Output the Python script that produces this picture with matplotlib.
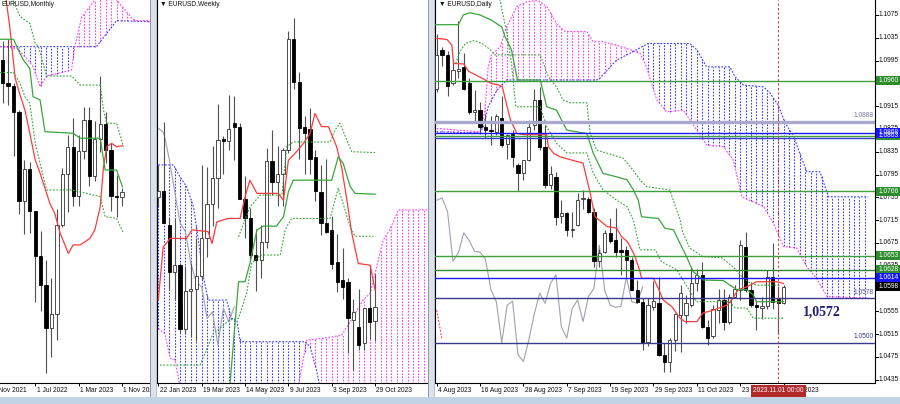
import numpy as np
import matplotlib
matplotlib.use("Agg")
import matplotlib.pyplot as plt
import matplotlib.transforms as mtransforms
from matplotlib.patches import Rectangle

plt.rcParams['font.family'] = ['Liberation Sans', 'DejaVu Sans']

# ---------------- Monthly EURUSD (Jan 2022 .. Nov 2023) ----------------
m_open = [1.1370, 1.1235, 1.1218, 1.1067, 1.0545, 1.0733, 1.0484, 1.0220, 1.0054, 0.9802, 0.9882, 1.0405,
          1.0705, 1.0863, 1.0576, 1.0839, 1.1017, 1.0690, 1.0910, 1.0997, 1.0843, 1.0573, 1.0570]
m_high = [1.1483, 1.1495, 1.1233, 1.1076, 1.0787, 1.0773, 1.0486, 1.0368, 1.0198, 1.0094, 1.0497, 1.0736,
          1.0929, 1.1033, 1.0930, 1.1095, 1.1092, 1.1012, 1.1276, 1.1065, 1.0882, 1.0695, 1.0620]
m_low = [1.1121, 1.1106, 1.0806, 1.0471, 1.0349, 1.0359, 0.9952, 0.9901, 0.9536, 0.9632, 0.9730, 1.0393,
         1.0482, 1.0516, 1.0516, 1.0788, 1.0635, 1.0662, 1.0834, 1.0766, 1.0488, 1.0448, 1.0516]
m_close = [1.1235, 1.1218, 1.1067, 1.0545, 1.0733, 1.0484, 1.0220, 1.0054, 0.9802, 0.9882, 1.0405, 1.0705,
           1.0863, 1.0576, 1.0839, 1.1017, 1.0690, 1.0910, 1.0997, 1.0843, 1.0573, 1.0566, 1.0598]
m_tick_idx = [-2, 6, 14, 22]
m_tick_lbl = ['1 Nov 2021', '1 Jul 2022', '1 Mar 2023', '1 Nov 2023']

m_tenkan_x = [0.3, 1.3, 2.3, 3.2, 4.1, 5.0, 6.0, 6.9, 7.8, 8.7, 9.6, 10.6, 12.1, 13.0, 14.3, 16.1, 17.0, 18.0, 18.6, 19.2, 20.1, 21.0, 22.1]
m_tenkan_y = [1.1800, 1.1565, 1.1263, 1.1165, 1.1077, 1.0941, 1.0785, 1.0707, 1.0619, 1.0531, 1.0473, 1.0356, 1.0238, 1.0287, 1.0287, 1.0326, 1.0375, 1.0511, 1.0745, 1.0862, 1.0882, 1.0862, 1.0868]
m_kijun_x = [-0.5, 2.0, 2.9, 3.8, 5.0, 5.6, 6.9, 7.8, 13.0, 14.3, 18.0, 18.9, 21.0, 22.1]
m_kijun_y = [1.1491, 1.1491, 1.1428, 1.1370, 1.1321, 1.1155, 1.1136, 1.0950, 1.0941, 1.0912, 1.0912, 1.0726, 1.0726, 1.0628]
m_dotu_x = [1.0, 3.2, 5.0, 6.0, 6.6, 8.1, 12.7, 14.3, 18.0, 18.6, 19.2, 21.0, 22.3]
m_dotu_y = [1.1790, 1.1623, 1.1585, 1.1468, 1.1448, 1.1276, 1.1276, 1.1223, 1.1223, 1.1077, 1.0999, 1.0999, 1.0862]
m_dotl_x = [-0.5, 2.0, 3.2, 4.1, 5.0, 6.0, 8.1, 12.7, 18.0, 18.9, 21.0, 22.3]
m_dotl_y = [1.1296, 1.1296, 1.1233, 1.1155, 1.1116, 1.0882, 1.0609, 1.0609, 1.0570, 1.0453, 1.0443, 1.0356]
m_spana_x = [-0.5, 17.3, 21.0, 27.2]
m_spana_y = [1.1448, 1.1448, 1.1600, 1.1594]
m_spanb_x = [-0.5, 2.6, 4.4, 5.6, 6.9, 8.1, 12.7, 13.3, 14.6, 16.1, 17.0, 18.0, 20.4, 21.0, 22.6, 23.8, 24.7, 27.2]
m_spanb_y = [1.1448, 1.1438, 1.1380, 1.1331, 1.1214, 1.1276, 1.1311, 1.1448, 1.1623, 1.1682, 1.1721, 1.1760, 1.1760, 1.1721, 1.1662, 1.1614, 1.1600, 1.1600]

# ---------------- Weekly EURUSD (22 Jan 2023 .. 29 Oct 2023) ----------------
w_open = [1.0855, 1.0870, 1.0790, 1.0680, 1.0695, 1.0545, 1.0635, 1.0640, 1.0670, 1.0760, 1.0840, 1.0900,
          1.0990, 1.0988, 1.1030, 1.1020, 1.0850, 1.0805, 1.0720, 1.0708, 1.0750, 1.0940, 1.0890, 1.0910,
          1.0965, 1.1228, 1.1125, 1.1020, 1.1015, 1.0950, 1.0868, 1.0795, 1.0778, 1.0703, 1.0660, 1.0656,
          1.0566, 1.0550, 1.0512, 1.0594, 1.0564]
w_high = [1.0930, 1.1033, 1.0805, 1.0805, 1.0700, 1.0693, 1.0700, 1.0760, 1.0930, 1.0925, 1.0975, 1.1075,
          1.1000, 1.1095, 1.1092, 1.1030, 1.0905, 1.0830, 1.0780, 1.0790, 1.0970, 1.1012, 1.0975, 1.0970,
          1.1245, 1.1276, 1.1150, 1.1045, 1.1065, 1.0965, 1.0930, 1.0945, 1.0810, 1.0768, 1.0736, 1.0665,
          1.0616, 1.0640, 1.0595, 1.0695, 1.0675]
w_low = [1.0835, 1.0795, 1.0640, 1.0615, 1.0535, 1.0533, 1.0525, 1.0516, 1.0660, 1.0715, 1.0788, 1.0830,
         1.0910, 1.0965, 1.0942, 1.0850, 1.0760, 1.0705, 1.0635, 1.0665, 1.0735, 1.0860, 1.0835, 1.0835,
         1.0960, 1.1110, 1.0945, 1.0910, 1.0910, 1.0845, 1.0766, 1.0770, 1.0685, 1.0632, 1.0615, 1.0488,
         1.0448, 1.0495, 1.0495, 1.0522, 1.0516]
w_close = [1.0870, 1.0795, 1.0680, 1.0695, 1.0545, 1.0635, 1.0640, 1.0670, 1.0760, 1.0840, 1.0900, 1.0990,
           1.0988, 1.1015, 1.1020, 1.0850, 1.0805, 1.0720, 1.0708, 1.0750, 1.0940, 1.0890, 1.0910, 1.0965,
           1.1228, 1.1125, 1.1017, 1.1007, 1.0946, 1.0870, 1.0795, 1.0774, 1.0699, 1.0656, 1.0644, 1.0570,
           1.0585, 1.0507, 1.0594, 1.0562, 1.0597]
w_tick_idx = [0, 8, 16, 24, 32, 40]
w_tick_lbl = ['22 Jan 2023', '19 Mar 2023', '14 May 2023', '9 Jul 2023', '3 Sep 2023', '29 Oct 2023']

w_tenkan_x = [0, 0.9, 2.2, 5.2, 6.2, 9.2, 9.9, 10.8, 12.9, 15.1, 16.0, 16.9, 18.2, 22.1, 23.1, 24.0, 25.5, 26.8, 28.0, 28.9, 30.1, 31.4, 32.9, 33.8, 34.8, 35.7, 36.9, 39.1, 40.0]
w_tenkan_y = [1.0613, 1.0738, 1.0758, 1.0758, 1.0778, 1.0774, 1.0746, 1.0797, 1.0805, 1.0805, 1.0856, 1.0895, 1.0864, 1.0864, 1.0848, 1.0942, 1.0962, 1.0982, 1.1005, 1.1052, 1.1021, 1.1021, 1.0974, 1.0927, 1.0848, 1.0770, 1.0699, 1.0695, 1.0636]
w_kijun_x = [13.0, 14.8, 16.0, 16.9, 18.2, 19.4, 21.8, 23.1, 24.0, 24.9, 32.0, 33.2, 34.1, 35.4, 36.3, 40.0]
w_kijun_y = [1.0380, 1.0656, 1.0656, 1.0699, 1.0778, 1.0787, 1.0787, 1.0809, 1.0868, 1.0895, 1.0895, 1.0950, 1.0935, 1.0880, 1.0864, 1.0862]
w_dotu_x = [14.8, 16.9, 18.8, 22.8, 23.7, 24.9, 31.7, 32.6, 33.5, 34.8, 35.7, 40.0]
w_dotu_y = [1.0762, 1.0832, 1.0860, 1.0860, 1.0974, 1.0985, 1.0985, 1.1013, 1.1029, 1.0989, 1.0962, 1.0960]
w_dotl_x = [0.3, 7.7, 8.6, 10.1, 13.2, 14.8, 16.3, 17.2, 18.8, 22.5, 23.4, 24.6, 31.7, 32.6, 33.2, 34.1, 35.4, 36.3, 39.7]
w_dotl_y = [1.0460, 1.0460, 1.0487, 1.0534, 1.0566, 1.0570, 1.0629, 1.0699, 1.0719, 1.0719, 1.0778, 1.0805, 1.0805, 1.0848, 1.0876, 1.0840, 1.0785, 1.0763, 1.0763]
w_spana_x = [0, 2.8, 4.0, 5.2, 6.5, 7.4, 8.3, 9.2, 12.6, 13.5, 14.5, 15.1, 27.1, 28.0, 29.2, 29.8, 49.8]
w_spana_y = [1.0931, 1.0931, 1.0903, 1.0880, 1.0832, 1.0754, 1.0668, 1.0613, 1.0613, 1.0570, 1.0566, 1.0515, 1.0515, 1.0503, 1.0448, 1.0409, 1.0409]
w_spanb_x = [0, 1.2, 2.2, 3.1, 4.0, 25.8, 27.4, 30.4, 33.8, 34.8, 36.0, 37.8, 39.1, 40.9, 41.5, 42.7, 44.3, 49.8]
w_spanb_y = [1.0546, 1.0534, 1.0476, 1.0472, 1.0409, 1.0409, 1.0519, 1.0523, 1.0530, 1.0550, 1.0574, 1.0613, 1.0629, 1.0723, 1.0754, 1.0778, 1.0825, 1.0825]

# ---------------- Daily EURUSD (4 Aug 2023 .. 2 Nov 2023) ----------------
d_open = [1.0945, 1.1014, 1.1005, 1.0955, 1.0976, 1.0984, 1.0955, 1.0905, 1.0908, 1.0879,
          1.0873, 1.0870, 1.0895, 1.0849, 1.0866, 1.0812, 1.0797, 1.0821, 1.0882, 1.0926,
          1.0844, 1.0777, 1.0790, 1.0722, 1.0727, 1.0698, 1.0707, 1.0752, 1.0753, 1.0730,
          1.0644, 1.0660, 1.0693, 1.0680, 1.0663, 1.0663, 1.0646, 1.0593, 1.0572, 1.0502,
          1.0563, 1.0570, 1.0479, 1.0467, 1.0505, 1.0549, 1.0549, 1.0566, 1.0604, 1.0619,
          1.0528, 1.0511, 1.0557, 1.0575, 1.0537, 1.0581, 1.0592, 1.0668, 1.0592, 1.0566,
          1.0561, 1.0564, 1.0615, 1.0576, 1.0569]
d_high = [1.1042, 1.1019, 1.1011, 1.0996, 1.1064, 1.1008, 1.0964, 1.0943, 1.0923, 1.0902,
          1.0897, 1.0902, 1.0932, 1.0867, 1.0873, 1.0815, 1.0821, 1.0891, 1.0946, 1.0949,
          1.0882, 1.0810, 1.0800, 1.0750, 1.0730, 1.0730, 1.0762, 1.0768, 1.0756, 1.0736,
          1.0664, 1.0698, 1.0718, 1.0736, 1.0683, 1.0670, 1.0651, 1.0610, 1.0578, 1.0578,
          1.0608, 1.0616, 1.0499, 1.0508, 1.0552, 1.0601, 1.0584, 1.0632, 1.0630, 1.0642,
          1.0540, 1.0566, 1.0595, 1.0595, 1.0585, 1.0601, 1.0680, 1.0695, 1.0607, 1.0575,
          1.0580, 1.0628, 1.0675, 1.0600, 1.0601]
d_low = [1.0940, 1.0985, 1.0932, 1.0952, 1.0965, 1.0943, 1.0902, 1.0885, 1.0867, 1.0859,
         1.0847, 1.0864, 1.0844, 1.0823, 1.0809, 1.0766, 1.0786, 1.0818, 1.0873, 1.0838,
         1.0771, 1.0770, 1.0706, 1.0710, 1.0687, 1.0686, 1.0705, 1.0735, 1.0727, 1.0632,
         1.0633, 1.0657, 1.0675, 1.0650, 1.0619, 1.0615, 1.0593, 1.0569, 1.0488, 1.0495,
         1.0557, 1.0476, 1.0448, 1.0449, 1.0485, 1.0483, 1.0534, 1.0563, 1.0590, 1.0525,
         1.0496, 1.0508, 1.0535, 1.0522, 1.0533, 1.0578, 1.0575, 1.0589, 1.0563, 1.0522,
         1.0541, 1.0560, 1.0560, 1.0516, 1.0568]
d_close = [1.1005, 1.1005, 1.0950, 1.0978, 1.0981, 1.0946, 1.0905, 1.0909, 1.0879, 1.0873,
           1.0872, 1.0897, 1.0847, 1.0864, 1.0826, 1.0797, 1.0820, 1.0879, 1.0926, 1.0844,
           1.0777, 1.0796, 1.0720, 1.0727, 1.0698, 1.0700, 1.0750, 1.0754, 1.0730, 1.0643,
           1.0658, 1.0693, 1.0679, 1.0660, 1.0659, 1.0646, 1.0593, 1.0572, 1.0500, 1.0566,
           1.0573, 1.0479, 1.0467, 1.0505, 1.0550, 1.0587, 1.0569, 1.0604, 1.0619, 1.0528,
           1.0508, 1.0560, 1.0575, 1.0537, 1.0581, 1.0595, 1.0671, 1.0592, 1.0566, 1.0562,
           1.0564, 1.0615, 1.0572, 1.0569, 1.0598]
d_tick_idx = [0, 8, 16, 24, 32, 40, 48, 56, 64]
d_tick_lbl = ['4 Aug 2023', '16 Aug 2023', '28 Aug 2023', '7 Sep 2023', '19 Sep 2023',
              '29 Sep 2023', '11 Oct 2023', '23 Oct 2023', '2 Nov 2023']
d_price_ticks = [1.1075, 1.1035, 1.0995, 1.0955, 1.0915, 1.0875, 1.0835, 1.0795, 1.0755,
                 1.0715, 1.0675, 1.0635, 1.0555, 1.0515, 1.0475, 1.0435]

d_tenkan_x = [-0.1, 1.9, 2.8, 3.1, 5.0, 5.9, 8.4, 10.0, 11.5, 12.1, 13.0, 13.6, 14.8, 16.1, 20.3, 20.6, 21.6, 22.8, 27.0, 28.3, 29.2, 30.4, 31.4, 33.2, 34.1, 35.2, 36.0, 36.6, 37.5, 37.8, 40.0, 40.9, 41.8, 43.4, 44.9, 45.8, 48.0, 49.1, 51.0, 53.6, 54.4, 55.6, 57.2, 59.0, 62.7, 64.0]
d_tenkan_y = [1.1034, 1.1032, 1.1022, 1.0990, 1.0989, 1.0976, 1.0964, 1.0955, 1.0952, 1.0949, 1.0914, 1.0891, 1.0867, 1.0865, 1.0865, 1.0844, 1.0832, 1.0826, 1.0815, 1.0763, 1.0721, 1.0712, 1.0704, 1.0701, 1.0686, 1.0677, 1.0663, 1.0651, 1.0625, 1.0613, 1.0613, 1.0595, 1.0575, 1.0563, 1.0543, 1.0537, 1.0537, 1.0552, 1.0557, 1.0566, 1.0575, 1.0593, 1.0598, 1.0607, 1.0607, 1.0604]
d_kijun_x = [-0.3, 4.0, 4.9, 6.1, 8.0, 10.1, 12.0, 12.6, 13.8, 14.9, 19.1, 20.3, 22.1, 24.0, 27.7, 28.9, 30.7, 33.2, 35.1, 36.3, 37.2, 37.8, 40.9, 42.1, 43.7, 44.9, 45.8, 47.3, 49.2, 52.9, 54.1, 55.4, 57.2, 58.4, 59.0, 64.0]
d_kijun_y = [1.1058, 1.1058, 1.1075, 1.1079, 1.1075, 1.1066, 1.1054, 1.1037, 1.1014, 1.0961, 1.0961, 1.0914, 1.0908, 1.0873, 1.0867, 1.0832, 1.0797, 1.0791, 1.0786, 1.0768, 1.0750, 1.0721, 1.0718, 1.0701, 1.0698, 1.0674, 1.0657, 1.0625, 1.0610, 1.0609, 1.0601, 1.0593, 1.0593, 1.0584, 1.0572, 1.0572]
d_dotu_x = [3.5, 4.3, 5.3, 6.8, 8.4, 9.9, 10.8, 19.1, 20.6, 22.1, 23.3, 24.6, 27.7, 28.3, 29.5, 34.4, 36.2, 37.5, 38.7, 43.0, 44.9, 45.4, 46.7, 49.1, 52.6, 54.7, 56.5, 57.8, 59.0, 63.3]
d_dotu_y = [1.0990, 1.1011, 1.1025, 1.1030, 1.1025, 1.1014, 1.1005, 1.1005, 1.0967, 1.0949, 1.0926, 1.0921, 1.0921, 1.0868, 1.0838, 1.0824, 1.0803, 1.0786, 1.0774, 1.0768, 1.0716, 1.0693, 1.0666, 1.0651, 1.0649, 1.0633, 1.0614, 1.0605, 1.0601, 1.0601]
d_dotl_x = [11.6, 13.0, 13.8, 14.6, 19.1, 20.3, 22.1, 24.0, 27.7, 28.9, 30.7, 33.2, 35.1, 36.3, 37.5, 40.3, 41.5, 44.3, 47.9, 54.1, 55.0, 57.2, 58.4, 64.1]
d_dotl_y = [1.1105, 1.1040, 1.0990, 1.0914, 1.0914, 1.0879, 1.0850, 1.0833, 1.0833, 1.0797, 1.0768, 1.0750, 1.0739, 1.0715, 1.0663, 1.0663, 1.0642, 1.0628, 1.0572, 1.0572, 1.0561, 1.0561, 1.0543, 1.0543]
d_spana_x = [0, 8, 8.6, 9.5, 11.1, 12.0, 12.9, 29.5, 30.1, 33.2, 35.7, 39.0, 46.7, 48.0, 49.8, 54.1, 55.0, 56.6, 60.3, 61.5, 63.0, 64.3, 65.8, 67.0, 68.3, 70.7, 72.3, 79.6]
d_spana_y = [1.0870, 1.0868, 1.0879, 1.0914, 1.0943, 1.0952, 1.0961, 1.0961, 1.0964, 1.0996, 1.1008, 1.1025, 1.1025, 1.1014, 1.0984, 1.0984, 1.0967, 1.0952, 1.0949, 1.0938, 1.0917, 1.0885, 1.0864, 1.0832, 1.0800, 1.0800, 1.0756, 1.0756]
d_spanb_x = [0, 8, 8.9, 9.5, 10.1, 11.7, 12.9, 14.8, 16.6, 18.5, 20.3, 22.1, 23.7, 27.7, 28.9, 30.7, 33.2, 35.7, 37.5, 38.7, 40.6, 42.4, 45.5, 48.0, 49.8, 52.9, 54.7, 56.3, 60.3, 62.1, 64.0, 66.4, 68.3, 70.1, 72.0, 79.6]
d_spanb_y = [1.0876, 1.0870, 1.0908, 1.0984, 1.1005, 1.1019, 1.1054, 1.1090, 1.1098, 1.1101, 1.1090, 1.1060, 1.1046, 1.1046, 1.1028, 1.1028, 1.1022, 1.1014, 1.1008, 1.0984, 1.0926, 1.0905, 1.0908, 1.0873, 1.0847, 1.0844, 1.0821, 1.0756, 1.0739, 1.0710, 1.0669, 1.0666, 1.0633, 1.0613, 1.0581, 1.0578]
d_reddot_x = [0, 1]
d_reddot_y = [1.0557, 1.0505]

# horizontal levels on the daily chart
lvl_values = [1.0960, 1.0888, 1.0868, 1.0863, 1.0860, 1.0766, 1.0653, 1.0628, 1.0614, 1.0578, 1.0500]
lvl_colors = ['#3f9f3f', '#a9a9cf', '#1a1aff', '#3f9f3f', '#3a3ad0', '#3f9f3f', '#3f9f3f', '#2f8a2f', '#1a1aff', '#3a3a8c', '#3a3a8c']
lvl_widths = [1.0, 2.4, 1.0, 1.0, 1.0, 1.0, 1.0, 1.0, 1.0, 1.0, 1.0]
box_values = [1.0960, 1.0863, 1.0868, 1.0766, 1.0653, 1.0628, 1.0614, 1.0598]
box_colors = ['#2e8b2e', '#2e8b2e', '#1414ff', '#2e8b2e', '#2e8b2e', '#2e8b2e', '#1414ff', '#000000']
txt_values = [1.0888, 1.0578, 1.0500]
txt_colors = ['#7a7aa8', '#5050a0', '#3a3a8c']
kijun_note = '1,0572'
now_label = '2023.11.01 00:00'
now_idx = 63

# ---------------- layout ----------------
W, H = 900, 404
fig = plt.figure(figsize=(9, 4.04), dpi=100)
fig.patch.set_facecolor('white')
FS = 4.8
PLOT_B = 382.5
LBL_B = 397


def add_ax(x0, y0, x1, y1):
    return fig.add_axes([x0 / W, 1 - y1 / H, (x1 - x0) / W, (y1 - y0) / H])


def style_plot(ax, left=False, right=False):
    ax.set_facecolor('white')
    ax.set_xticks([])
    ax.set_yticks([])
    for s in ax.spines.values():
        s.set_visible(False)
    ax.spines['bottom'].set_visible(True)
    ax.spines['bottom'].set_color('black')
    ax.spines['bottom'].set_linewidth(0.8)
    if left:
        ax.spines['left'].set_visible(True)
        ax.spines['left'].set_color('black')
        ax.spines['left'].set_linewidth(0.8)
    if right:
        ax.spines['right'].set_visible(True)
        ax.spines['right'].set_color('black')
        ax.spines['right'].set_linewidth(0.8)


def candles(ax, o, h, l, c, minh):
    o, h, l, c = map(np.asarray, (o, h, l, c))
    x = np.arange(len(o))
    ax.vlines(x, l, h, colors='#505050', lw=0.8, zorder=3)
    up = c >= o
    bottom = np.minimum(o, c)
    height = np.maximum(np.abs(c - o), minh)
    ax.bar(x[up], height[up], 0.6, bottom[up], color='white', edgecolor='#303030', lw=0.6, zorder=3.5)
    ax.bar(x[~up], height[~up], 0.6, bottom[~up], color='black', edgecolor='black', lw=0.6, zorder=3.5)


DOT = (0, (1.6, 1.4))


def cloud(ax, ax_x, ax_y, bx, by):
    n0 = int(np.ceil(max(min(ax_x), min(bx))))
    n1 = int(np.floor(min(max(ax_x), max(bx))))
    xs = np.arange(n0, n1 + 1)
    a = np.interp(xs, ax_x, ax_y)
    b = np.interp(xs, bx, by)
    up = a >= b
    ax.vlines(xs[up], b[up], a[up], colors='#3c3cff', linestyles=DOT, lw=0.75, zorder=1)
    ax.vlines(xs[~up], a[~up], b[~up], colors='#ff3cff', linestyles=DOT, lw=0.75, zorder=1)
    ax.plot(ax_x, ax_y, color='#3c3cff', ls=DOT, lw=0.8, zorder=1.5)
    ax.plot(bx, by, color='#ff3cff', ls=DOT, lw=0.8, zorder=1.5)


def ichi_lines(ax, tx, ty, kx, ky, ux, uy, lx, ly):
    ax.plot(tx, ty, color='#ff3b3b', lw=0.9, zorder=4)
    ax.plot(kx, ky, color='#3aa63a', lw=0.9, zorder=4)
    ax.plot(ux, uy, color='#3aa63a', ls=DOT, lw=0.8, zorder=4)
    ax.plot(lx, ly, color='#3aa63a', ls=DOT, lw=0.8, zorder=4)


def time_labels(x0, x1, xlim, idx, lbl):
    la = add_ax(x0, PLOT_B, x1, LBL_B)
    la.set_xlim(*xlim)
    la.set_ylim(0, 1)
    la.axis('off')
    tr = mtransforms.blended_transform_factory(la.transData, la.transAxes)
    la.vlines(idx, 0.78, 1.0, colors='black', lw=0.7, transform=tr, clip_on=True)
    for i, t in zip(idx, lbl):
        la.text(i + 0.25, 0.42, t, transform=tr, fontsize=FS, color='#111111',
                ha='left', va='center', clip_on=True)
    return la


# ---------------- Monthly ----------------
m_xlim = (-0.498, 27.18)
axM = add_ax(0, 0, 150, PLOT_B)
axM.set_xlim(*m_xlim)
axM.set_ylim(0.9482, 1.1721)
style_plot(axM)
cloud(axM, m_spana_x, m_spana_y, m_spanb_x, m_spanb_y)
ichi_lines(axM, m_tenkan_x, m_tenkan_y, m_kijun_x, m_kijun_y, m_dotu_x, m_dotu_y, m_dotl_x, m_dotl_y)
candles(axM, m_open, m_high, m_low, m_close, 0.0008)
time_labels(0, 150, m_xlim, m_tick_idx, m_tick_lbl)
fig.text(1.5 / W, 1 - 4.5 / H, 'EURUSD,Monthly', fontsize=FS, va='center', ha='left', color='#111111')

# ---------------- Weekly ----------------
w_xlim = (-0.24, 49.76)
axW = add_ax(157, 0, 428, PLOT_B)
axW.set_xlim(*w_xlim)
axW.set_ylim(1.0419, 1.1319)
style_plot(axW, left=True)
cloud(axW, w_spana_x, w_spana_y, w_spanb_x, w_spanb_y)
w_cl = np.asarray(w_close)
axW.plot(np.arange(len(w_cl) - 26), w_cl[26:], color='#9ea2ae', lw=0.8, zorder=2)
ichi_lines(axW, w_tenkan_x, w_tenkan_y, w_kijun_x, w_kijun_y, w_dotu_x, w_dotu_y, w_dotl_x, w_dotl_y)
candles(axW, w_open, w_high, w_low, w_close, 0.0003)
time_labels(157, 428, w_xlim, w_tick_idx, w_tick_lbl)
fig.text(160 / W, 1 - 4.5 / H, '\u25bc EURUSD,Weekly', fontsize=FS, va='center', ha='left', color='#111111')

# ---------------- Daily ----------------
d_xlim = (-0.314, 80.87)
d_ylim = (1.04302, 1.11013)
axD = add_ax(435, 0, 875, PLOT_B)
axD.set_xlim(*d_xlim)
axD.set_ylim(*d_ylim)
style_plot(axD, left=True, right=True)
cloud(axD, d_spana_x, d_spana_y, d_spanb_x, d_spanb_y)
d_cl = np.asarray(d_close)
axD.plot(np.arange(len(d_cl) - 26), d_cl[26:], color='#9ea2ae', lw=0.8, zorder=2)
axD.plot(d_reddot_x, d_reddot_y, color='#ff3b3b', ls=DOT, lw=0.8, zorder=2)
ichi_lines(axD, d_tenkan_x, d_tenkan_y, d_kijun_x, d_kijun_y, d_dotu_x, d_dotu_y, d_dotl_x, d_dotl_y)
candles(axD, d_open, d_high, d_low, d_close, 0.00006)
for v, c, lw in zip(lvl_values, lvl_colors, lvl_widths):
    axD.axhline(v, color=c, lw=lw, zorder=5)
axD.axvline(now_idx, color='#cc4040', ls=(0, (2, 2)), lw=0.8, zorder=5)
trD = mtransforms.blended_transform_factory(axD.transAxes, axD.transData)
for v, c in zip(txt_values, txt_colors):
    axD.text(0.997, v + 0.0004, f'{v:.4f}', transform=trD, fontsize=FS, color=c,
             ha='right', va='bottom', zorder=6)
axD.text(71.0, 1.0553, kijun_note, fontsize=10, fontweight='bold', family='Liberation Serif',
         color='#1f1f78', ha='center', va='center', zorder=6)
laD = time_labels(435, 875, d_xlim, d_tick_idx, d_tick_lbl)
laD.text(now_idx, 0.42, now_label, transform=mtransforms.blended_transform_factory(laD.transData, laD.transAxes),
         fontsize=FS, color='white', ha='center', va='center', zorder=10, clip_on=False,
         bbox=dict(facecolor='#b22a2a', edgecolor='none', boxstyle='square,pad=0.35'))
fig.text(439 / W, 1 - 4.5 / H, '\u25bc EURUSD,Daily', fontsize=FS, va='center', ha='left', color='#111111')

# price axis
axP = add_ax(875, 0, 900, PLOT_B)
axP.set_xlim(0, 1)
axP.set_ylim(*d_ylim)
axP.axis('off')
trP = mtransforms.blended_transform_factory(axP.transAxes, axP.transData)
for v in d_price_ticks:
    axP.plot([0, 0.1], [v, v], color='black', lw=0.7, transform=trP)
    axP.text(0.13, v, f'{v:.4f}', transform=trP, fontsize=FS, color='#111111', ha='left', va='center')
bh = 0.0016
for v, c in zip(box_values, box_colors):
    axP.add_patch(Rectangle((0.04, v - bh / 2), 0.96, bh, transform=trP, facecolor=c,
                            edgecolor='none', zorder=5))
    axP.text(0.53, v, f'{v:.4f}', transform=trP, fontsize=FS, color='white',
             ha='center', va='center', zorder=6)

# window frames between panels and bottom strip
for x0, x1 in [(150, 157), (428, 435)]:
    fig.patches.append(Rectangle((x0 / W, 1 - LBL_B / H), (x1 - x0) / W, LBL_B / H,
                                 transform=fig.transFigure, facecolor='#dde2ea', edgecolor='none', zorder=0))
    for xe, col in [(x0, '#8e98a8'), (x1 - 1, '#b8c0cc')]:
        fig.patches.append(Rectangle((xe / W, 1 - LBL_B / H), 1 / W, LBL_B / H,
                                     transform=fig.transFigure, facecolor=col, edgecolor='none', zorder=0))
fig.patches.append(Rectangle((0, 0), 1, (H - LBL_B) / H, transform=fig.transFigure,
                             facecolor='#c3d3e6', edgecolor='none', zorder=0))

fig.savefig('out.png', dpi=100, facecolor='white')
